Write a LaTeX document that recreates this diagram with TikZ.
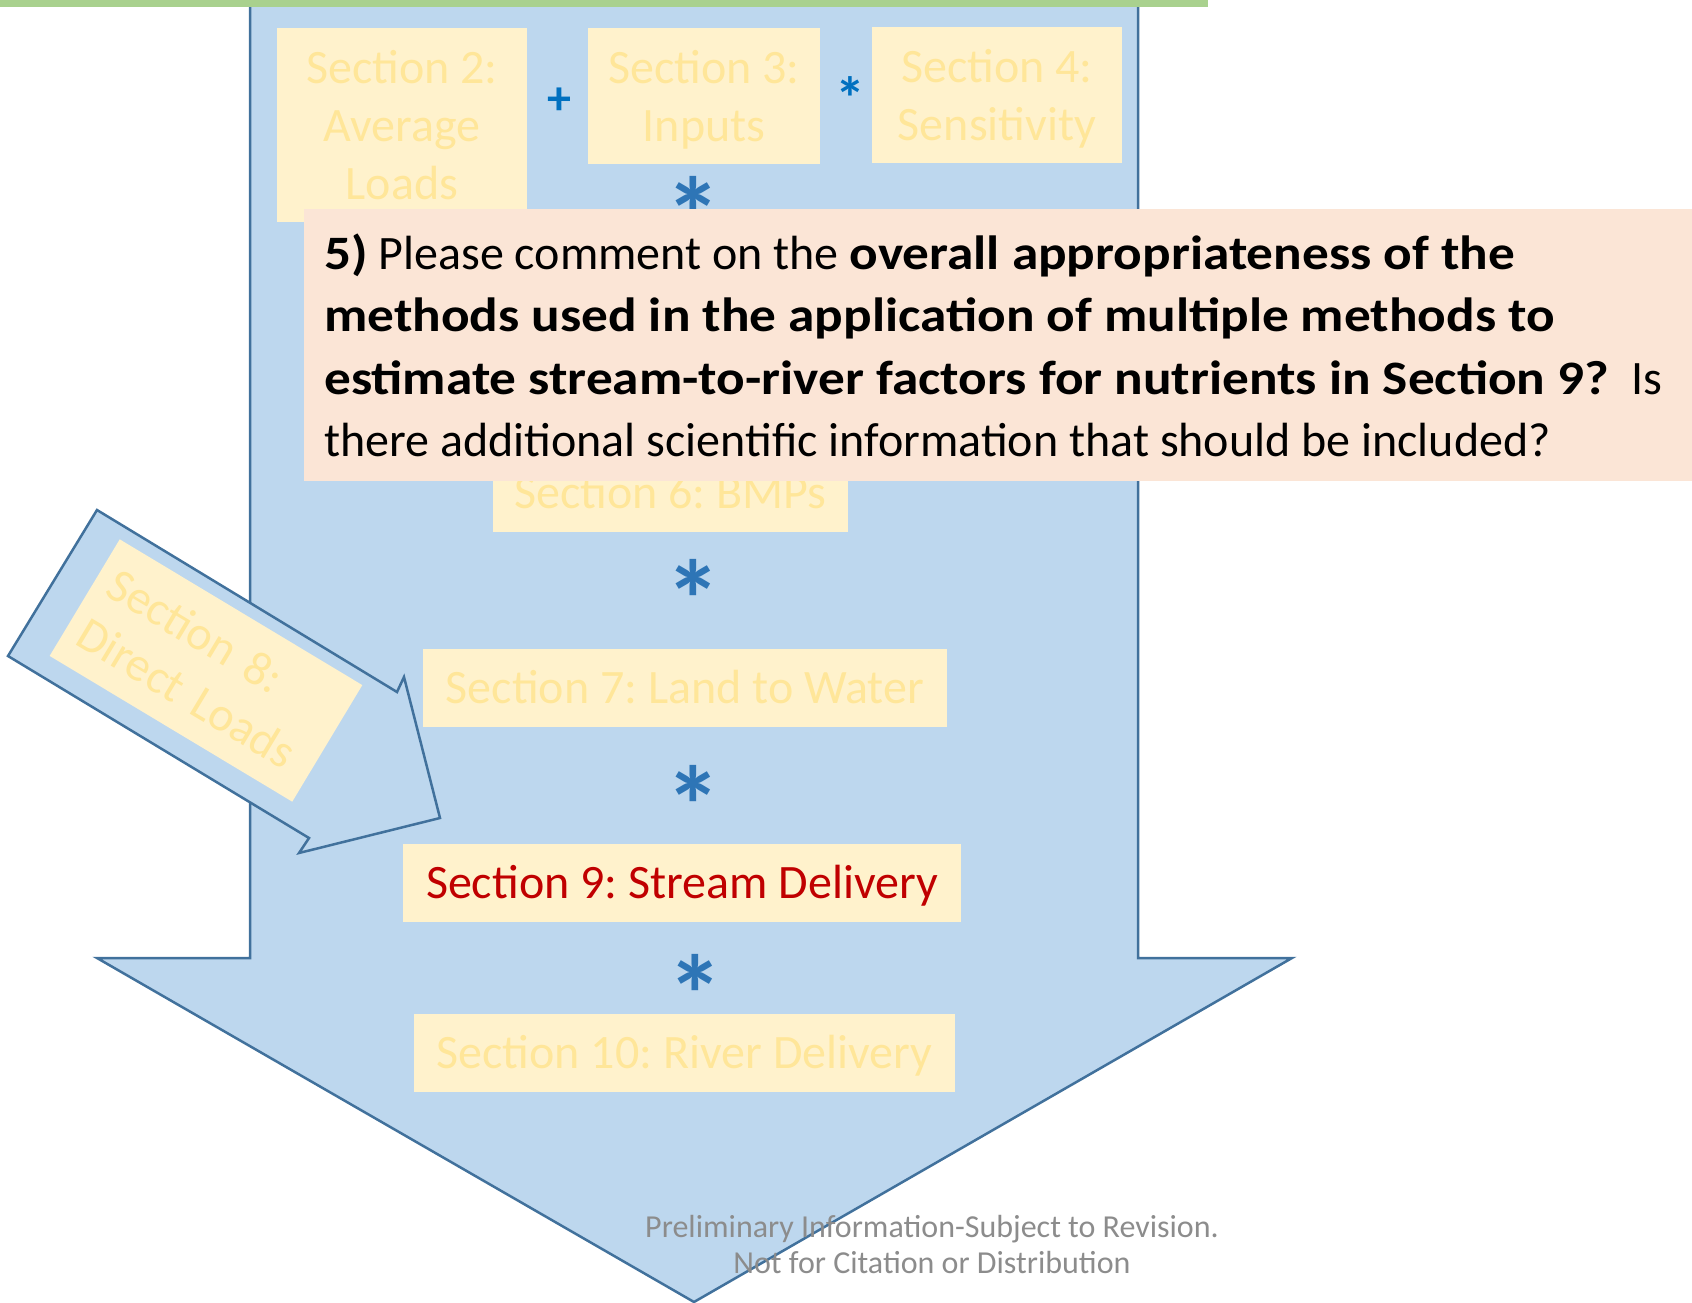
\documentclass[tikz,border=0pt]{standalone}
\usepackage{fontspec}
\setmainfont{Carlito}
\newfontface\widebold{Carlito Bold}[FakeStretch=1.11]
\definecolor{arrowfill}{HTML}{BDD7EE}
\definecolor{arrowline}{HTML}{41719C}
\definecolor{boxfill}{HTML}{FFF2CC}
\definecolor{fadetext}{HTML}{FFE699}
\definecolor{qfill}{HTML}{FBE5D6}
\definecolor{redtext}{HTML}{C00000}
\definecolor{astblue}{HTML}{2E75B6}
\definecolor{plusblue}{HTML}{0070C0}
\definecolor{greenbar}{HTML}{A9D18E}
\definecolor{footgray}{HTML}{8C8C8C}
\frenchspacing
\begin{document}
\begin{tikzpicture}[x=1pt,y=-1pt,
  secbox/.style={fill=boxfill, draw=none, inner sep=0pt, text=fadetext,
    font=\fontsize{48}{58}\selectfont\frenchspacing, align=center},
  flat/.style={text depth=0pt},
  bigast/.style={text=astblue, font=\fontsize{112}{112}\selectfont\bfseries, inner sep=0pt, anchor=base},
  smallsym/.style={text=plusblue, font=\fontsize{48}{48}\selectfont\bfseries, inner sep=0pt, anchor=base},
  qline/.style={inner sep=0pt, anchor=base west, font=\fontsize{48}{62}\selectfont\frenchspacing},
  footline/.style={inner sep=0pt, anchor=base, text=footgray, font=\fontsize{32}{36}\selectfont},
  shapeline/.style={draw=arrowline, line width=2.5pt, line join=miter}
]
\useasboundingbox (0,0) rectangle (1692,1303);
% big down arrow
\fill[arrowfill] (250,0) -- (250,958) -- (97,958) -- (694,1302) -- (1292,958) -- (1138,958) -- (1138,0) -- cycle;
\draw[shapeline] (250,0) -- (250,958) -- (97,958) -- (694,1302) -- (1292,958) -- (1138,958) -- (1138,0);
% diagonal arrow
\filldraw[fill=arrowfill, shapeline] (97,510) -- (397,692) -- (404,677) -- (440,818) -- (299,853) -- (309,838) -- (8,656) -- cycle;
% green bar
\fill[greenbar] (0,0) rectangle (1208,7);
% section boxes
\node[secbox, flat, minimum width=250, minimum height=194] (s2) at (402,125) {Section 2:\\Average\\Loads};
\node[secbox, flat, minimum width=232, minimum height=136] (s3) at (704,96) {Section 3:\\Inputs};
\node[secbox, flat, minimum width=250, minimum height=136] (s4) at (997,95) {Section 4:\\Sensitivity};
\node[secbox, flat, minimum width=355, minimum height=78, text height=31pt] (s6) at (670.5,493) {Section 6: BMPs};
\node[secbox, flat, minimum width=524, minimum height=78, text height=31pt] (s7) at (685,688) {Section 7: Land to Water};
\node[secbox, flat, minimum width=558, minimum height=78, text height=31pt, text=redtext] (s9) at (682,883) {Section 9: Stream Delivery};
\node[secbox, flat, minimum width=541, minimum height=78, text height=31pt] (s10) at (684.5,1053) {Section 10: River Delivery};
\node[secbox, rotate=-31, minimum width=283, minimum height=136, text width=255, inner sep=14pt, align=left] (s8) at (206,670.5) {Section 8:\\Direct Loads};
% operators
\node[smallsym] (plus) at (559,115) {+};
\node[smallsym, font=\fontsize{60}{60}\selectfont\bfseries] (sast) at (850,120) {*};
\node[bigast] (a1) at (693,256) {*};
\node[bigast] (a2) at (693,639) {*};
\node[bigast] (a3) at (693,845) {*};
\node[bigast] (a4) at (695,1034) {*};
% question box
\node[fill=qfill, draw=none, inner sep=0pt, minimum width=1388, minimum height=272] (q) at (998,345) {};
\node[qline] (q1) at (324,269) {{\widebold 5)} Please comment on the {\widebold overall appropriateness of the}};
\node[qline] (q2) at (324,331.5) {{\widebold methods used in the application of multiple methods to}};
\node[qline] (q3) at (324,394) {{\widebold estimate stream-to-river factors for nutrients in Section 9?}\ \ Is};
\node[qline] (q4) at (324,456.5) {there additional scientific information that should be included?};
% footer
\node[footline] (f1) at (932,1237) {Preliminary Information-Subject to Revision.};
\node[footline] (f2) at (932,1273) {Not for Citation or Distribution};
\end{tikzpicture}
\end{document}
